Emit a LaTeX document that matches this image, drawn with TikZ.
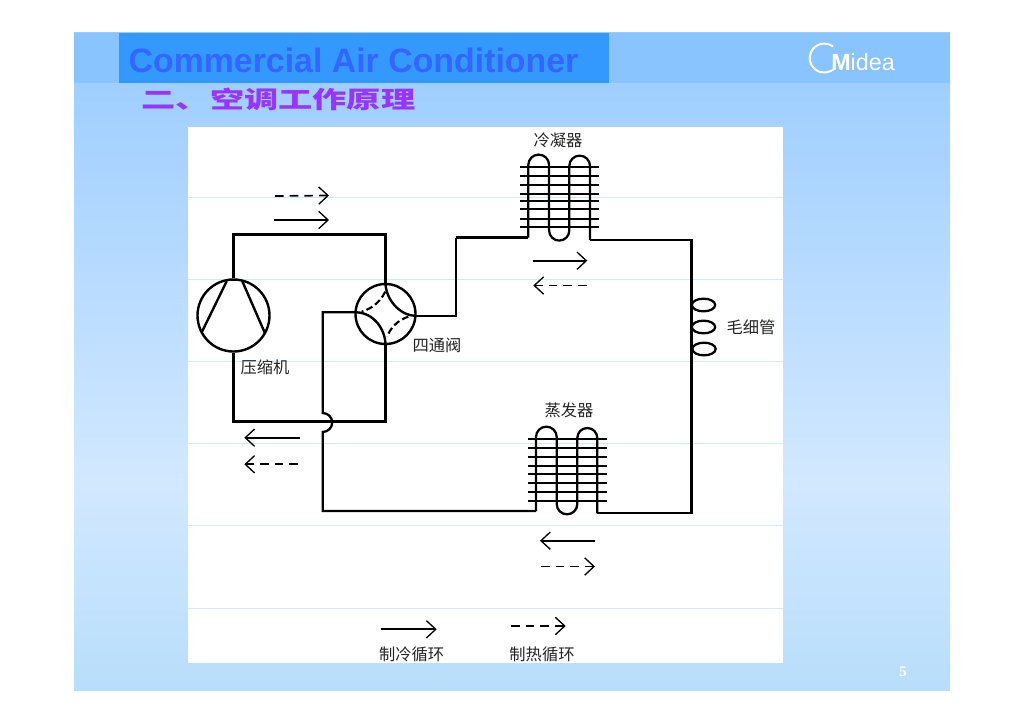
\documentclass[tikz,border=0pt]{standalone}
\usepackage{fontspec}
\setmainfont{Liberation Sans}
\newfontfamily\cjk{Noto Sans CJK SC}
\newfontfamily\serifnum{Liberation Serif}
\usetikzlibrary{arrows.meta,shapes.geometric}
\definecolor{bandblue}{HTML}{8AC4FF}
\definecolor{titlebox}{HTML}{3399FF}
\definecolor{titletext}{HTML}{3366FF}
\definecolor{bgtop}{HTML}{99CCFF}
\definecolor{bgmid}{HTML}{D2E8FF}
\definecolor{bgbot}{HTML}{B8DEFB}
\definecolor{gridline}{HTML}{D4E9F8}
\definecolor{headtext}{HTML}{9933FF}
\tikzset{
  pipe/.style={line width=1.7pt,line join=miter},
  thickpipe/.style={line width=2.3pt,line join=miter},
  fin/.style={line width=1.3pt},
  flow/.style={line width=1.25pt,-{Straight Barb[length=7pt,width=13pt,line width=1pt]}},
  flowdash/.style={flow,dash pattern=on 6.5pt off 4.5pt},
  cjklabel/.style={font=\cjk\fontsize{12.2pt}{13pt}\selectfont,inner sep=0pt,text=black!85},
  unit/.style={circle,draw,line width=1.8pt,inner sep=0pt},
  coil/.style={draw,ellipse,line width=1.7pt,minimum width=17.5pt,minimum height=9.5pt,inner sep=0pt},
}
\begin{document}
\begin{tikzpicture}[x=0.75pt,y=-0.75pt]
\useasboundingbox (0,0) rectangle (1024,724);
\fill[white] (0,0) rectangle (1024,724);
% slide background
\shade[top color=bgtop,bottom color=bgmid] (74,33) rectangle (950,481);
\shade[top color=bgmid,bottom color=bgbot] (74,480) rectangle (950,690);
\fill[bandblue] (74,33) rectangle (950,83);
\fill[titlebox] (119,33) rectangle (609,83);
\node[inner sep=0pt,text=titletext,font=\bfseries\fontsize{25.4pt}{28pt}\selectfont] (title) at (353.5,60) {Commercial Air Conditioner};
\node[inner sep=0pt,text=headtext,xscale=1.44,font=\cjk\bfseries\fontsize{17.8pt}{20pt}\selectfont] (head) at (278.5,99) {二、空调工作原理};
% logo
\draw[white,line width=1.5pt] (833,46.5) arc[start angle=-53,end angle=-320,radius=14.5];
\node[inner sep=0pt,anchor=west,text=white,font=\fontsize{17.5pt}{20pt}\selectfont] (logo) at (831,62) {\textbf{M}idea};
\node[inner sep=0pt,text=white,font=\serifnum\bfseries\fontsize{11pt}{12pt}\selectfont] (page) at (903,672) {5};
% white panel
\fill[white] (188,127) rectangle (783,663);
\foreach \yy in {197,279,361,443,525,608}
  \draw[gridline,line width=0.7pt] (188,\yy) -- (783,\yy);
% components
\node[unit,minimum size=54pt] (comp) at (233.5,315.5) {};
\node[unit,minimum size=45pt] (valve) at (385.5,314) {};
\coordinate (vr) at (415.5,315.7);
\coordinate (vl) at (355.5,312.3);
\coordinate (topL) at (233.5,234.5);
\coordinate (topR) at (385.5,234.5);
\coordinate (bottomL) at (233.5,421.7);
\coordinate (bottomR) at (385.5,421.7);
\coordinate (rstep) at (455.7,315.7);
\coordinate (rstepT) at (455.7,237.7);
\coordinate (condIn) at (528.3,237.7);
\coordinate (condOut) at (590,240);
\coordinate (capTop) at (691.5,240);
\coordinate (capBot) at (691.5,513.3);
\coordinate (evapOut) at (597.3,513.3);
\coordinate (evapIn) at (536,511);
\coordinate (lpipeT) at (322.7,312.3);
\coordinate (hopT) at (322.7,413);
\coordinate (lpipeB) at (322.7,511);
% compressor blades
\draw[line width=1.8pt] (226.7,281.2) -- (201.7,332.3);
\draw[line width=1.8pt] (242.3,281.2) -- (265,333.3);
\draw[line width=1.8pt] (226.7,280) -- (242.3,280);
% valve internals
\draw[line width=1.8pt] (valve.north) .. controls +(0,16) and +(-16,0) .. (vr);
\draw[line width=1.8pt] (vl) .. controls +(18,0) and +(0,-16) .. (valve.south);
\draw[line width=1.6pt,dash pattern=on 5pt off 2.5pt] (385.3,291.7) .. controls (379,304) and (370,309) .. (361.7,311.7);
\draw[line width=1.6pt,dash pattern=on 5pt off 2.5pt] (408.3,316.7) .. controls (398,320) and (390,328) .. (387.3,336.7);
% pipes
\draw[pipe] (comp.north) -- (topL) -- (topR) -- (valve.north);
\draw[thickpipe] (comp.south) -- (bottomL) -- (bottomR) -- (valve.south);
\draw[pipe] (vr) -- (rstep) -- (rstepT);
\draw[thickpipe] (rstepT) -- (condIn);
\draw[pipe] (condOut) -- (capTop) -- (capBot) -- (evapOut);
\draw[pipe] (vl) -- (lpipeT) -- (hopT) arc[start angle=-90,end angle=90,radius=9.5] -- (lpipeB) -- (evapIn);
% condenser
\foreach \yy in {166.7,175.7,185,194,200.7,209.3,219,227.3}
  \draw[fin] (520,\yy) -- (599.3,\yy);
\draw[pipe] (condIn) -- (528.3,165) arc[start angle=180,end angle=360,radius=10.4] -- (549.1,230.5)
  arc[start angle=180,end angle=0,radius=10.1] -- (569.3,166) arc[start angle=180,end angle=360,radius=10.35] -- (condOut);
% evaporator
\foreach \yy in {439.3,447.7,456.7,465.7,474.3,483,492.3,501}
  \draw[fin] (528.3,\yy) -- (606.7,\yy);
\draw[pipe] (evapIn) -- (536,437) arc[start angle=180,end angle=360,radius=10.35] -- (556.7,504)
  arc[start angle=180,end angle=0,radius=10.3] -- (577.3,438) arc[start angle=180,end angle=360,radius=10] -- (evapOut);
% capillary
\node[coil] (cap1) at (703.5,305) {};
\node[coil] (cap2) at (703.5,327) {};
\node[coil] (cap3) at (704,349) {};
% flow arrows
\coordinate (a1s) at (275,196); \coordinate (a1e) at (329,195.5);
\coordinate (a2s) at (274,220); \coordinate (a2e) at (329,220);
\coordinate (a3s) at (533.3,260.7); \coordinate (a3e) at (587.3,260.7);
\coordinate (a4s) at (586.7,285.5); \coordinate (a4e) at (533.3,285.5);
\coordinate (a5s) at (300,437.7); \coordinate (a5e) at (244.3,437.7);
\coordinate (a6s) at (298,464.3); \coordinate (a6e) at (244.3,464.3);
\coordinate (a7s) at (595,540.7); \coordinate (a7e) at (540,540.7);
\coordinate (a8s) at (541,566.5); \coordinate (a8e) at (595,566.5);
\coordinate (a9s) at (380.7,629.3); \coordinate (a9e) at (436.7,629.3);
\coordinate (a10s) at (511,626); \coordinate (a10e) at (565.7,626);
\draw[flowdash] (a1s) -- (a1e);
\draw[flow] (a2s) -- (a2e);
\draw[flow] (a3s) -- (a3e);
\draw[flowdash] (a4s) -- (a4e);
\draw[flow] (a5s) -- (a5e);
\draw[flowdash] (a6s) -- (a6e);
\draw[flow] (a7s) -- (a7e);
\draw[flowdash] (a8s) -- (a8e);
\draw[flow,line width=1.5pt] (a9s) -- (a9e);
\draw[flowdash] (a10s) -- (a10e);
% labels
\node[cjklabel] (lcond) at (558,140) {冷凝器};
\node[cjklabel] (lcap) at (751,327.7) {毛细管};
\node[cjklabel] (lvalve) at (437,345.7) {四通阀};
\node[cjklabel] (lcomp) at (265,367) {压缩机};
\node[cjklabel] (levap) at (569,410) {蒸发器};
\node[cjklabel] (lcool) at (411.7,654.3) {制冷循环};
\node[cjklabel] (lheat) at (542,654) {制热循环};
\end{tikzpicture}
\end{document}
